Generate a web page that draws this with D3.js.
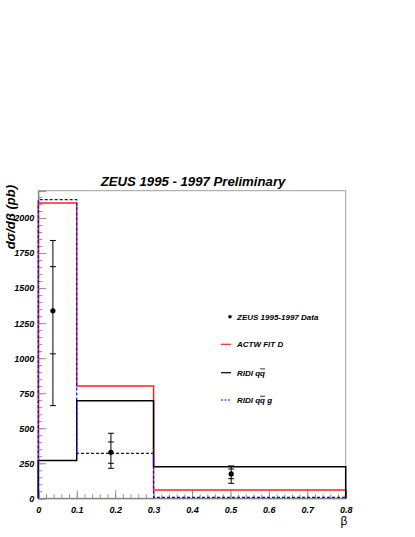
<!DOCTYPE html>
<html>
<head>
<meta charset="utf-8">
<title>ZEUS 1995 - 1997 Preliminary</title>
<style>
  body { margin: 0; background: #ffffff; }
  text { font-family: "Liberation Sans", Arial, sans-serif; fill: #000; }
  .tick-label { font-size: 9px; font-weight: bold; font-style: italic; }
  .legend text { font-size: 8px; font-weight: bold; font-style: italic; }
</style>
<script src="https://d3js.org/d3.v7.min.js"></script>
</head>
<body>
<div id="canvas"></div>
<script>
// bin edges in beta and the three model histograms (pb)
var binEdges = [0, 0.1, 0.3, 0.8];
var actwFitD = [2107, 802, 59];
var ridiQQ = [269, 697, 226];
var ridiQQG = [2131, 321, 7];

// ZEUS data points with inner (stat) and outer (total) errors
var dataBeta = [0.038, 0.189, 0.502];
var dataXsec = [1338, 328, 174];
var statLo = [1031, 250, 140];
var statHi = [1653, 402, 209];
var totLo = [661, 214, 107];
var totHi = [1840, 464, 231];

var xTicks = [0, 0.1, 0.2, 0.3, 0.4, 0.5, 0.6, 0.7, 0.8];
var yTicks = [0, 250, 500, 750, 1000, 1250, 1500, 1750, 2000];

var W = 415, H = 537;
var margin = {top: 190.7, right: 69.3, bottom: 38.7, left: 38.3};
var width = W - margin.left - margin.right,
    height = H - margin.top - margin.bottom;

var svg = d3.select("#canvas").append("svg")
    .attr("width", W).attr("height", H);

var x = d3.scaleLinear().domain([0, 0.8]).range([0, width]);
var y = d3.scaleLinear().domain([0, 2195]).range([height, 0]);

var g = svg.append("g")
    .attr("transform", "translate(" + margin.left + "," + margin.top + ")");

// frame
g.append("rect")
    .attr("width", width).attr("height", height)
    .attr("fill", "none").attr("stroke", "#a0a0a0").attr("stroke-width", 1);

// x axis: ticks pointing inward
var xAxis = g.append("g")
    .attr("transform", "translate(0," + height + ")");
xAxis.append("g")
    .call(d3.axisBottom(x).tickValues(d3.range(0, 0.8001, 0.02)).tickSize(-4).tickFormat(""))
    .call(function(s) { s.select(".domain").remove(); s.selectAll("line").attr("stroke", "#909090"); });
xAxis.append("g")
    .call(d3.axisBottom(x).tickValues(xTicks).tickSize(-8))
    .call(function(s) {
      s.select(".domain").attr("stroke", "#707070");
      s.selectAll("line").attr("stroke", "#909090");
      s.selectAll("text").attr("class", "tick-label").attr("fill", "#000")
        .attr("y", 8).attr("dy", "0.71em")
        .text(function(d) { return d === 0 ? "0" : d3.format(".1f")(d); });
    });

// y axis: ticks pointing inward
var yAxis = g.append("g");
yAxis.append("g")
    .call(d3.axisLeft(y).tickValues(d3.range(0, 2151, 50)).tickSize(-4).tickFormat(""))
    .call(function(s) { s.select(".domain").remove(); s.selectAll("line").attr("stroke", "#909090"); });
yAxis.append("g")
    .call(d3.axisLeft(y).tickValues(yTicks).tickSize(-8).tickFormat(d3.format("d")))
    .call(function(s) {
      s.select(".domain").attr("stroke", "#707070");
      s.selectAll("line").attr("stroke", "#909090");
      s.selectAll("text").attr("class", "tick-label").attr("fill", "#000").attr("x", -4);
    });

// histogram outlines
function histPath(vals) {
  var pts = [[binEdges[0], 0]];
  vals.forEach(function(v, i) {
    pts.push([binEdges[i], v]);
    pts.push([binEdges[i + 1], v]);
  });
  pts.push([binEdges[binEdges.length - 1], 0]);
  return d3.line().x(function(d) { return x(d[0]); }).y(function(d) { return y(d[1]); })(pts);
}

g.append("path").attr("d", histPath(actwFitD))
    .attr("fill", "none").attr("stroke", "#ff2020").attr("stroke-width", 1.5);
g.append("path").attr("d", histPath(ridiQQ))
    .attr("fill", "none").attr("stroke", "#000").attr("stroke-width", 1.5);
g.append("path").attr("d", histPath(ridiQQG))
    .attr("fill", "none").attr("stroke", "#0000ff").attr("stroke-width", 1.2)
    .attr("stroke-dasharray", "3,2");

// data points with error bars
var pts = dataBeta.map(function(b, i) {
  return {b: b, v: dataXsec[i], sl: statLo[i], sh: statHi[i], tl: totLo[i], th: totHi[i]};
});
var pg = g.selectAll(".pt").data(pts).enter().append("g").attr("class", "pt");
pg.append("line")
    .attr("x1", function(d) { return x(d.b); }).attr("x2", function(d) { return x(d.b); })
    .attr("y1", function(d) { return y(d.tl); }).attr("y2", function(d) { return y(d.th); })
    .attr("stroke", "#000").attr("stroke-width", 1);
["sl", "sh", "tl", "th"].forEach(function(k) {
  pg.append("line")
      .attr("x1", function(d) { return x(d.b) - 3; }).attr("x2", function(d) { return x(d.b) + 3; })
      .attr("y1", function(d) { return y(d[k]); }).attr("y2", function(d) { return y(d[k]); })
      .attr("stroke", "#000").attr("stroke-width", 1);
});
pg.append("circle")
    .attr("cx", function(d) { return x(d.b); }).attr("cy", function(d) { return y(d.v); })
    .attr("r", 2.6).attr("fill", "#000");

// legend
var legend = svg.append("g").attr("class", "legend");
var legY = [316.7, 344.3, 372.7, 400];
legend.append("circle").attr("cx", 230).attr("cy", legY[0]).attr("r", 1.8).attr("fill", "#000");
legend.append("line").attr("x1", 221).attr("x2", 231).attr("y1", legY[1]).attr("y2", legY[1])
    .attr("stroke", "#ff2020").attr("stroke-width", 1.2);
legend.append("line").attr("x1", 221).attr("x2", 231).attr("y1", legY[2]).attr("y2", legY[2])
    .attr("stroke", "#000").attr("stroke-width", 1.2);
legend.append("line").attr("x1", 221).attr("x2", 231).attr("y1", legY[3]).attr("y2", legY[3])
    .attr("stroke", "#0000ff").attr("stroke-width", 1).attr("stroke-dasharray", "2,1.5");

legend.append("text").attr("x", 237).attr("y", legY[0]).attr("dy", "0.35em").text("ZEUS 1995-1997 Data");
legend.append("text").attr("x", 237).attr("y", legY[1]).attr("dy", "0.35em").text("ACTW FIT D");
var t3 = legend.append("text").attr("x", 237).attr("y", legY[2]).attr("dy", "0.35em");
t3.append("tspan").text("RIDI q");
t3.append("tspan").style("text-decoration", "overline").text("q");
var t4 = legend.append("text").attr("x", 237).attr("y", legY[3]).attr("dy", "0.35em");
t4.append("tspan").text("RIDI q");
t4.append("tspan").style("text-decoration", "overline").text("q");
t4.append("tspan").text(" g");

// title
svg.append("text")
    .attr("x", 193).attr("y", 186)
    .attr("text-anchor", "middle")
    .style("font-size", "13.2px").style("font-weight", "bold").style("font-style", "italic")
    .text("ZEUS 1995 - 1997 Preliminary");

// y axis title
svg.append("text")
    .attr("transform", "translate(15,185) rotate(-90)")
    .attr("text-anchor", "end")
    .style("font-size", "13px").style("font-weight", "bold").style("font-style", "italic")
    .text("d\u03c3/d\u03b2 (pb)");

// x axis title
svg.append("text")
    .attr("x", 344).attr("y", 525)
    .attr("text-anchor", "middle")
    .style("font-size", "12px")
    .text("\u03b2");
</script>
</body>
</html>
